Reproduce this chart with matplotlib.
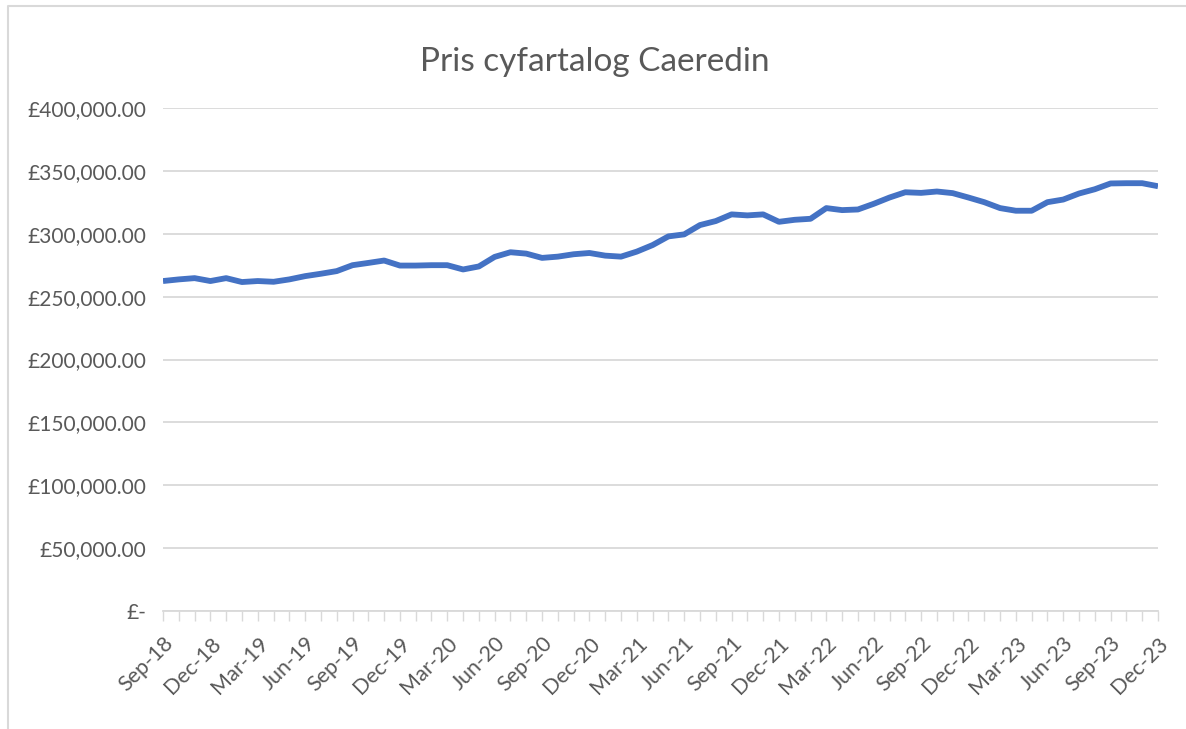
import numpy as np
import matplotlib.pyplot as plt
from matplotlib.lines import Line2D

# monthly average price, Sep-18 .. Dec-23
months = ["Sep", "Oct", "Nov", "Dec", "Jan", "Feb", "Mar", "Apr", "May", "Jun", "Jul", "Aug"]
startYear = 18
prices = [
    262400, 263700, 264700, 262400, 264700, 261600, 262400, 261800, 263700, 266300,
    268200, 270300, 275000, 276800, 278700, 274700, 274700, 275000, 275000, 271600,
    274000, 281600, 285300, 284200, 280800, 281800, 283700, 284700, 282600, 281800,
    285800, 291000, 297900, 299500, 306900, 310100, 315400, 314600, 315400, 309500,
    311100, 311900, 320400, 318800, 319300, 323800, 328800, 333000, 332500, 333600,
    332300, 328800, 325100, 320400, 318300, 318300, 325100, 327200, 332000, 335400,
    340000, 340200, 340200, 337800,
]

labels = []
for i in range(len(prices)):
    m = months[i % 12]
    y = startYear + (i + 8) // 12
    labels.append("{}-{}".format(m, y))

grey = "#595959"
gridGrey = "#D9D9D9"

plt.rcParams["font.family"] = ["Lato", "DejaVu Sans"]

fig = plt.figure(figsize=(11.86, 7.29), dpi=100)
ax = fig.add_axes([163 / 1186, 1 - 611 / 729, (1158 - 163) / 1186, (611 - 108) / 729])

x = np.arange(len(prices))
ax.plot(x, prices, color="#4472C4", lw=4.2, solid_joinstyle="round", solid_capstyle="butt", zorder=3)

ax.set_xlim(0, len(prices) - 1)
ax.set_ylim(0, 400000)

yticks = np.arange(0, 400001, 50000)
ax.set_yticks(yticks)
ax.set_yticklabels(["£-"] + ["£{:,.2f}".format(v) for v in yticks[1:]])
ax.yaxis.grid(True, color=gridGrey, lw=1.3)
ax.set_axisbelow(True)

ax.set_xticks(x, minor=True)
ax.set_xticks(x[::3])
ax.set_xticklabels(labels[::3], rotation=45, ha="right", va="top", rotation_mode="anchor")

ax.tick_params(axis="y", length=0, pad=12, labelsize=15, labelcolor=grey)
ax.tick_params(axis="x", which="both", length=7, width=1, color=gridGrey,
               labelsize=15.5, labelcolor=grey, pad=9)

for s in ["top", "right", "left"]:
    ax.spines[s].set_visible(False)
ax.spines["bottom"].set_color(gridGrey)
ax.spines["bottom"].set_linewidth(1.3)

fig.text(595 / 1186, 1 - 62 / 729, "Pris cyfartalog Caeredin", ha="center", va="center",
         fontsize=24, color=grey)

# chart frame
fig.add_artist(Line2D([8 / 1186, 8 / 1186, 1], [0, 1 - 6 / 729, 1 - 6 / 729],
                      transform=fig.transFigure, color=gridGrey, lw=1.5))

fig.savefig("out.png", dpi=100)
